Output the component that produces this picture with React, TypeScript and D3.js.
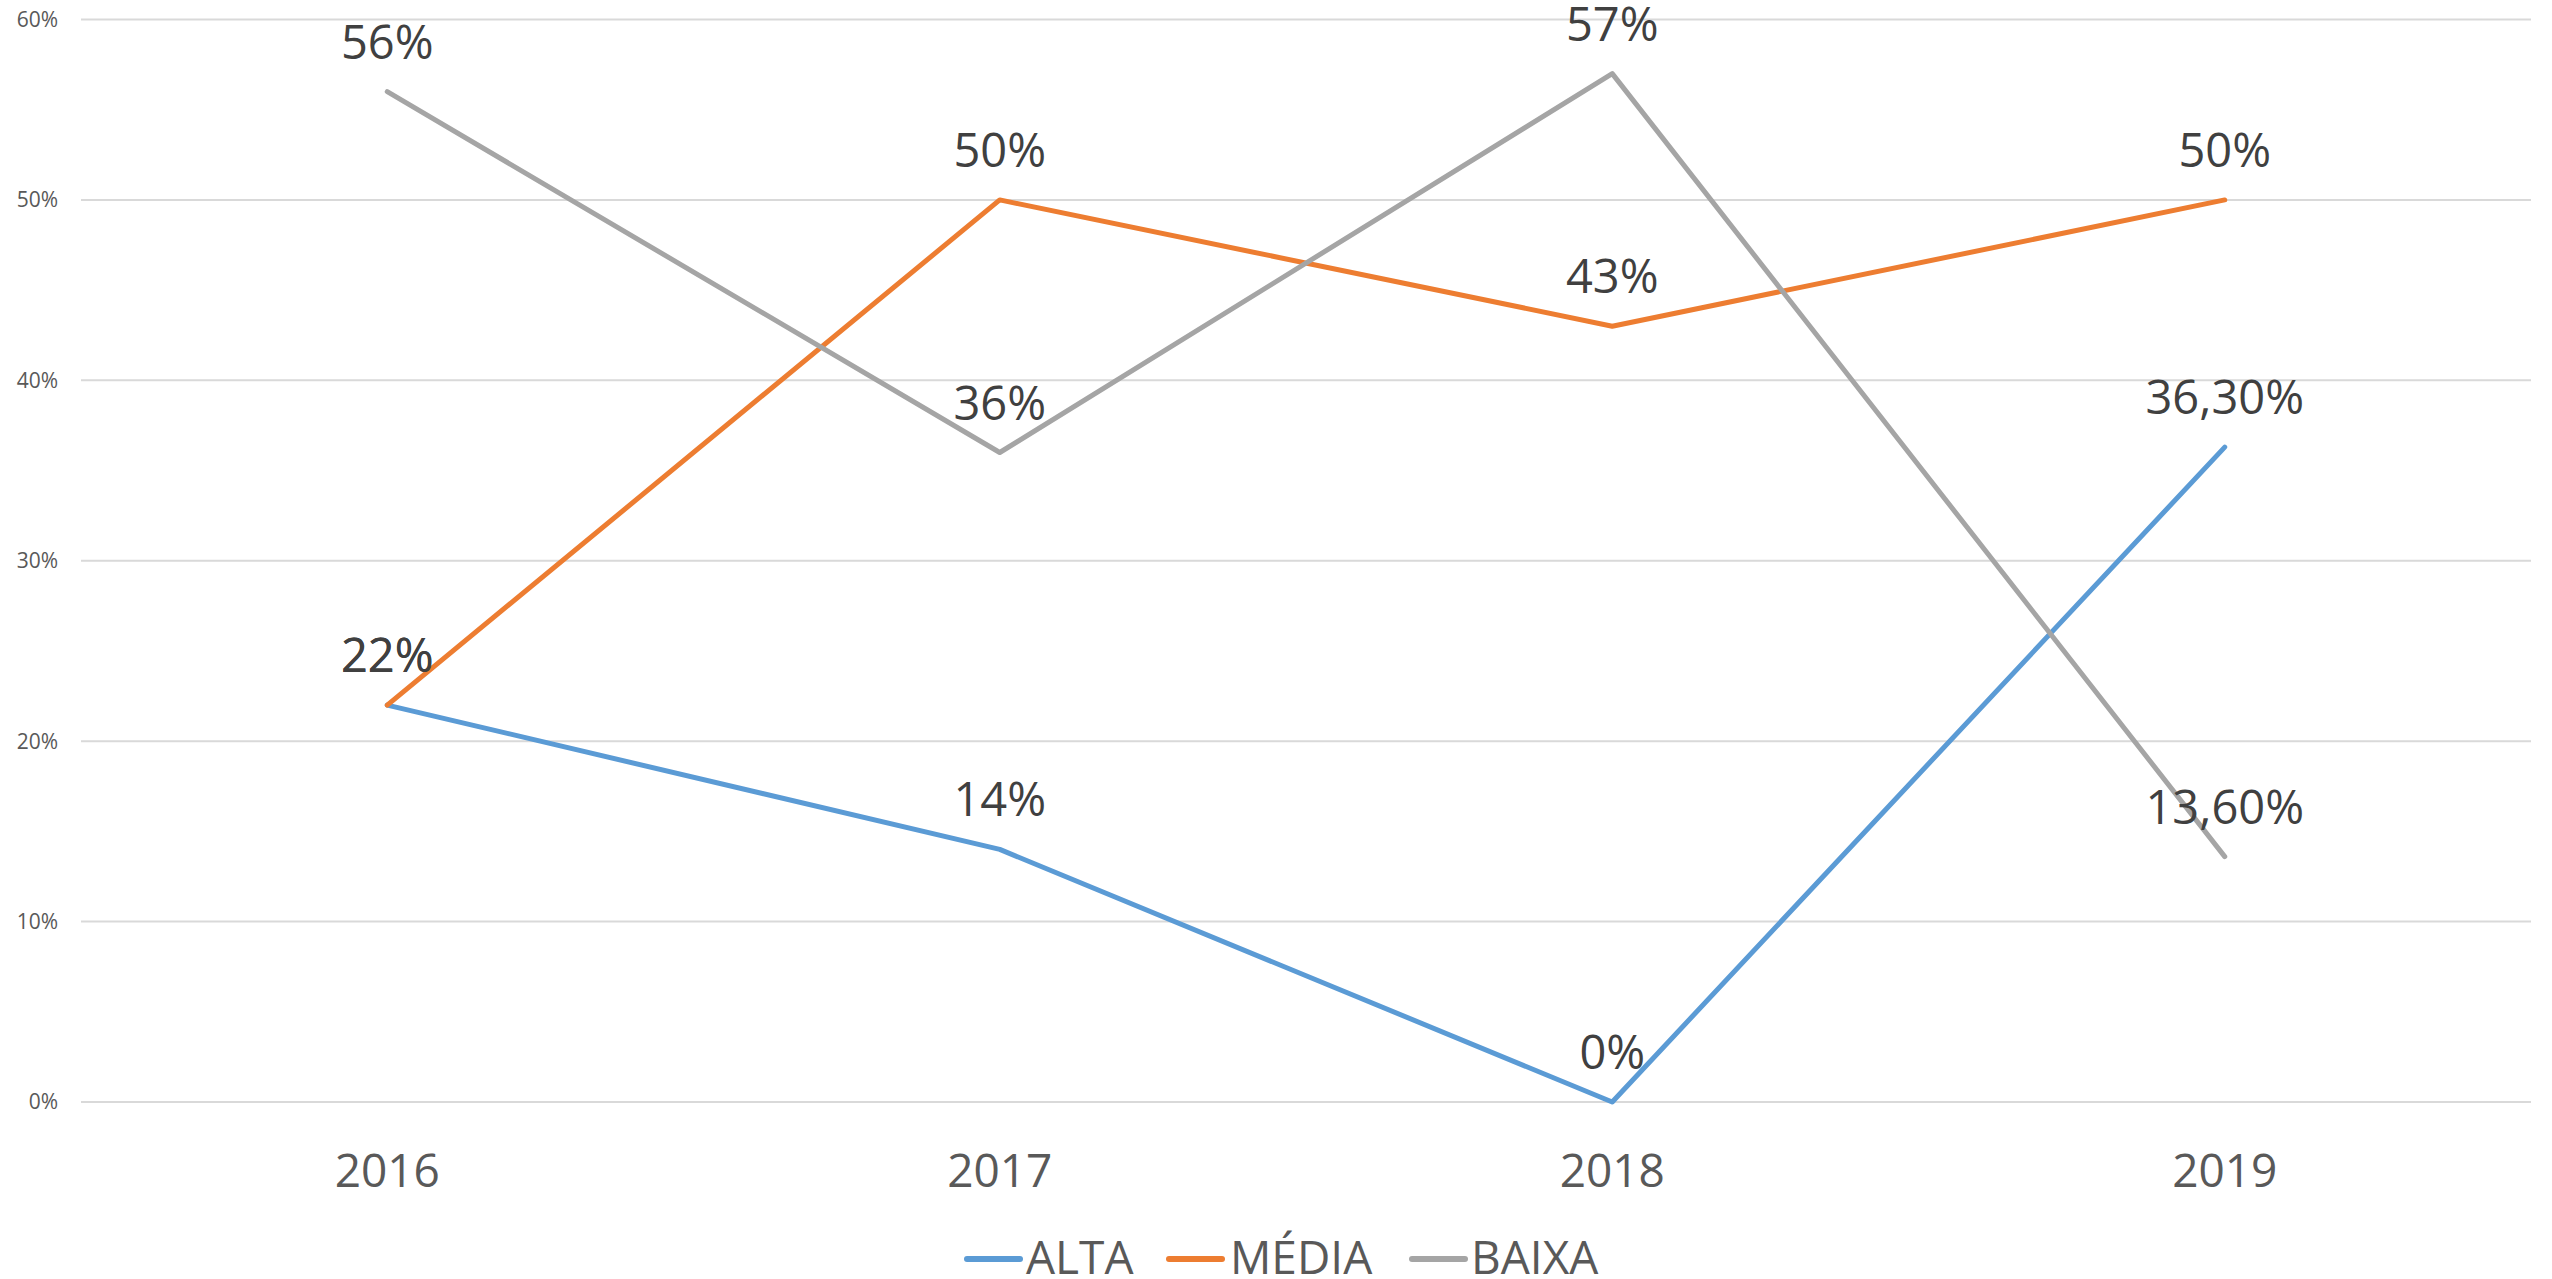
import React from "react";
import * as d3 from "d3";

const years = ["2016", "2017", "2018", "2019"];
const alta = [22, 14, 0, 36.3];
const media = [22, 50, 43, 50];
const baixa = [56, 36, 57, 13.6];
const altaLabels = ["22%", "14%", "0%", "36,30%"];
const mediaLabels = ["22%", "50%", "43%", "50%"];
const baixaLabels = ["56%", "36%", "57%", "13,60%"];
const yTicks = [0, 10, 20, 30, 40, 50, 60];
const seriesNames = ["ALTA", "MÉDIA", "BAIXA"];
const seriesColors = ["#5B9BD5", "#ED7D31", "#A5A5A5"];

const W = 2552;
const H = 1279;
const left = 81;
const right = 2531;
const top = 19.5;
const bottom = 1102;

export default function App() {
  const x = d3.scaleBand<string>().domain(years).range([left, right]);
  const y = d3.scaleLinear().domain([0, 60]).range([bottom, top]);
  const cx = (yr: string) => (x(yr) as number) + x.bandwidth() / 2;
  const line = d3
    .line<number>()
    .x((_, i) => cx(years[i]))
    .y((v) => y(v));
  const series = [
    { name: seriesNames[0], values: alta, labels: altaLabels, color: seriesColors[0] },
    { name: seriesNames[1], values: media, labels: mediaLabels, color: seriesColors[1] },
    { name: seriesNames[2], values: baixa, labels: baixaLabels, color: seriesColors[2] },
  ];
  const font = "'Open Sans', 'DejaVu Sans', sans-serif";
  const legendItems = [
    { lx: 967, tx: 1026 },
    { lx: 1169, tx: 1230 },
    { lx: 1412, tx: 1471 },
  ];
  return (
    <svg
      width={W}
      height={H}
      style={{ position: "absolute", left: 0, top: 0, display: "block", background: "#fff" }}
      fontFamily={font}
    >
      <rect x={0} y={0} width={W} height={H} fill="#fff" />
      {yTicks.map((t) => (
        <g key={t}>
          <line x1={left} x2={right} y1={y(t)} y2={y(t)} stroke="#D9D9D9" strokeWidth={2} />
          <text x={58} y={y(t)} dy="0.35em" textAnchor="end" fontSize={21} fill="#595959">
            {t + "%"}
          </text>
        </g>
      ))}
      {years.map((yr) => (
        <text key={yr} x={cx(yr)} y={1187} textAnchor="middle" fontSize={46} fill="#595959">
          {yr}
        </text>
      ))}
      {series.map((s) => (
        <path
          key={s.name}
          d={line(s.values) || ""}
          fill="none"
          stroke={s.color}
          strokeWidth={5}
          strokeLinecap="round"
          strokeLinejoin="round"
        />
      ))}
      {series.map((s) =>
        s.values.map((v, i) => (
          <text
            key={s.name + i}
            x={cx(years[i])}
            y={y(v) - 33}
            textAnchor="middle"
            fontSize={47}
            fill="#404040"
          >
            {s.labels[i]}
          </text>
        ))
      )}
      {series.map((s, i) => (
        <g key={"lg" + s.name}>
          <line
            x1={legendItems[i].lx}
            x2={legendItems[i].lx + 53}
            y1={1259}
            y2={1259}
            stroke={s.color}
            strokeWidth={6}
            strokeLinecap="round"
          />
          <text x={legendItems[i].tx} y={1274} fontSize={46} fill="#595959">
            {s.name}
          </text>
        </g>
      ))}
    </svg>
  );
}
